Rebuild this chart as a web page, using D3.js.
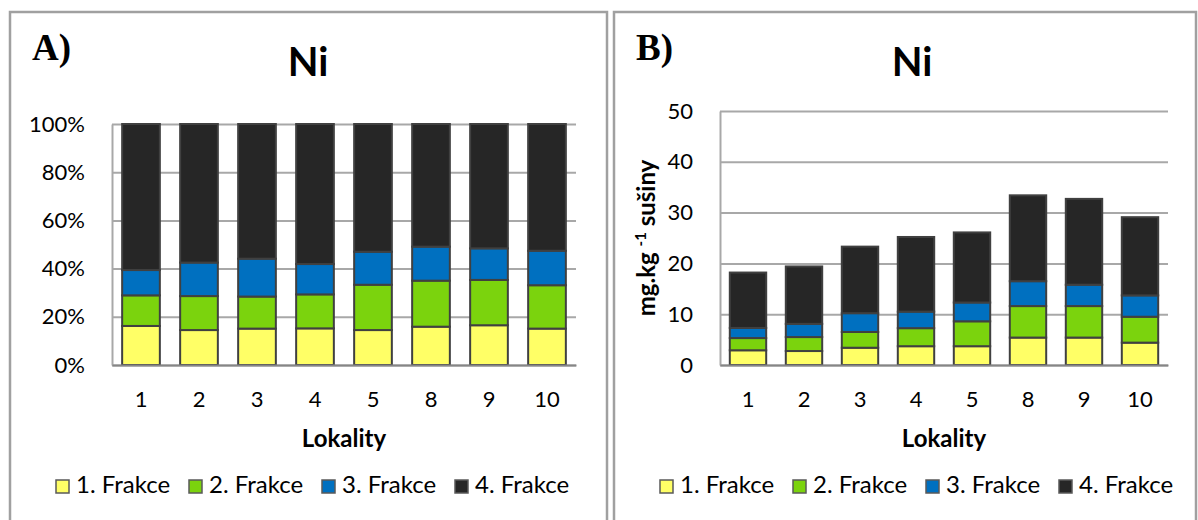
<!DOCTYPE html>
<meta charset="utf-8">
<style>
body { margin: 0; background: #fff; }
svg text { font-family: Lato, "Open Sans", sans-serif; fill: #000; }
.box { fill: none; stroke: #a0a0a0; stroke-width: 2.5px; }
.grid line { stroke: #a8a8a8; stroke-width: 2px; }
.grid .domain { stroke: #a8a8a8; stroke-width: 2px; }
.xaxis .domain { stroke: #868686; stroke-width: 2px; }
.tick text { font-size: 22px; }
.bar { stroke: #404040; stroke-width: 2px; }
.label { font-family: "Liberation Serif", "DejaVu Serif", serif !important; font-weight: bold; font-size: 37px; }
.title { font-weight: bold; font-size: 40px; }
.axtitle { font-weight: bold; font-size: 24px; }
.legend text { font-size: 24px; }
</style>
<body>

<script src="https://cdn.jsdelivr.net/npm/d3@7/dist/d3.min.js"></script>
<script>

// lokality on the x axis
var lokality = ["1", "2", "3", "4", "5", "8", "9", "10"];
var frakce = ["1. Frakce", "2. Frakce", "3. Frakce", "4. Frakce"];
var barvy = ["#ffff66", "#7bd30d", "#0070c0", "#262626"];

// A) share of each fraction, %
var podilF1 = [16.2, 14.5, 15.1, 15.2, 14.5, 15.9, 16.5, 15.1];
var podilF2 = [12.7, 14.1, 13.3, 14.1, 18.8, 19.1, 18.8, 18.0];
var podilF3 = [10.5, 13.9, 15.7, 12.6, 13.7, 14.1, 13.1, 14.3];
var podilF4 = [60.6, 57.5, 55.9, 58.1, 53.0, 50.9, 51.6, 52.6];
var podilTicks = [0, 20, 40, 60, 80, 100];

// B) content of each fraction, mg/kg dry matter
var obsahF1 = [2.9, 2.75, 3.4, 3.7, 3.7, 5.4, 5.4, 4.4];
var obsahF2 = [2.4, 2.75, 3.1, 3.55, 4.9, 6.2, 6.2, 5.1];
var obsahF3 = [2.0, 2.6, 3.7, 3.25, 3.7, 4.9, 4.2, 4.2];
var obsahF4 = [10.9, 11.3, 13.1, 14.7, 13.8, 16.9, 16.9, 15.4];
var obsahTicks = [0, 10, 20, 30, 40, 50];

var svg = d3.select("body").append("svg")
    .attr("width", 1198)
    .attr("height", 520);

function drawPanel(p) {
    var g = svg.append("g");

    // frame round the chart
    g.append("rect").attr("class", "box")
        .attr("x", p.box[0]).attr("y", p.box[1])
        .attr("width", p.box[2]).attr("height", p.box[3]);

    g.append("text").attr("class", "label")
        .attr("x", p.box[0] + 22).attr("y", 60).text(p.label);
    g.append("text").attr("class", "title")
        .attr("x", p.titleX).attr("y", 76)
        .attr("text-anchor", "middle").text("Ni");

    var rows = lokality.map(function(l, i) {
        var r = {lok: l};
        p.series.forEach(function(s, k) { r[k] = s[i]; });
        return r;
    });

    var x = d3.scaleBand().domain(lokality)
        .range([p.left, p.right])
        .paddingInner(0.35).paddingOuter(0.175);
    var y = d3.scaleLinear().domain([0, p.ticks[p.ticks.length - 1]])
        .range([p.bottom, p.top]);

    // gridlines + left axis line
    g.append("g").attr("class", "grid")
        .attr("transform", "translate(" + p.left + ",0)")
        .call(d3.axisLeft(y).tickValues(p.ticks)
            .tickSize(-(p.right - p.left)).tickSizeOuter(0).tickFormat(""));

    // y tick labels
    var ya = g.append("g")
        .attr("transform", "translate(" + p.left + ",0)")
        .call(d3.axisLeft(y).tickValues(p.ticks).tickSize(0)
            .tickPadding(27).tickFormat(p.fmt));
    ya.select(".domain").remove();

    var stack = d3.stack().keys([0, 1, 2, 3])(rows);

    g.selectAll(".serie").data(stack).enter().append("g")
        .attr("fill", function(d, i) { return barvy[i]; })
        .selectAll("rect").data(function(d) { return d; }).enter()
        .append("rect").attr("class", "bar")
        .attr("x", function(d) { return x(d.data.lok); })
        .attr("width", x.bandwidth())
        .attr("y", function(d) { return y(d[1]); })
        .attr("height", function(d) { return y(d[0]) - y(d[1]); });

    // x axis
    g.append("g").attr("class", "xaxis")
        .attr("transform", "translate(0," + p.bottom + ")")
        .call(d3.axisBottom(x).tickSize(0).tickSizeOuter(0).tickPadding(26));

    g.append("text").attr("class", "axtitle")
        .attr("x", (p.left + p.right) / 2).attr("y", 447)
        .attr("text-anchor", "middle").text("Lokality");

    if (p.ytitle) {
        var t = g.append("text").attr("class", "axtitle")
            .attr("transform", "translate(" + p.ytitle[0] + "," + p.ytitle[1] + ") rotate(-90)")
            .attr("text-anchor", "middle");
        t.append("tspan").text("mg.kg ");
        t.append("tspan").attr("dy", -9).style("font-size", "15px").text("-1");
        t.append("tspan").attr("dy", 9).text(" sušiny");
    }

    // legend
    var lg = g.append("g").attr("class", "legend")
        .selectAll("g").data(frakce).enter().append("g")
        .attr("transform", function(d, i) { return "translate(" + (p.legendX + i * 133) + ",479)"; });
    lg.append("rect").attr("x", 1).attr("y", 1).attr("width", 13).attr("height", 13)
        .attr("fill", function(d, i) { return barvy[i]; })
        .attr("stroke", "#5a5a5a").attr("stroke-width", 1.5);
    lg.append("text").attr("x", 21).attr("y", 14).text(function(d) { return d; });
}

drawPanel({
    label: "A)", box: [10, 12, 597, 530], titleX: 308,
    left: 112, right: 576, top: 124, bottom: 365,
    series: [podilF1, podilF2, podilF3, podilF4], ticks: podilTicks,
    fmt: function(d) { return d + "%"; }, legendX: 55
});

drawPanel({
    label: "B)", box: [614, 12, 582, 530], titleX: 912,
    left: 720, right: 1168, top: 111, bottom: 365,
    series: [obsahF1, obsahF2, obsahF3, obsahF4], ticks: obsahTicks,
    fmt: function(d) { return d; }, legendX: 659, ytitle: [655, 238]
});

</script>
</body>
